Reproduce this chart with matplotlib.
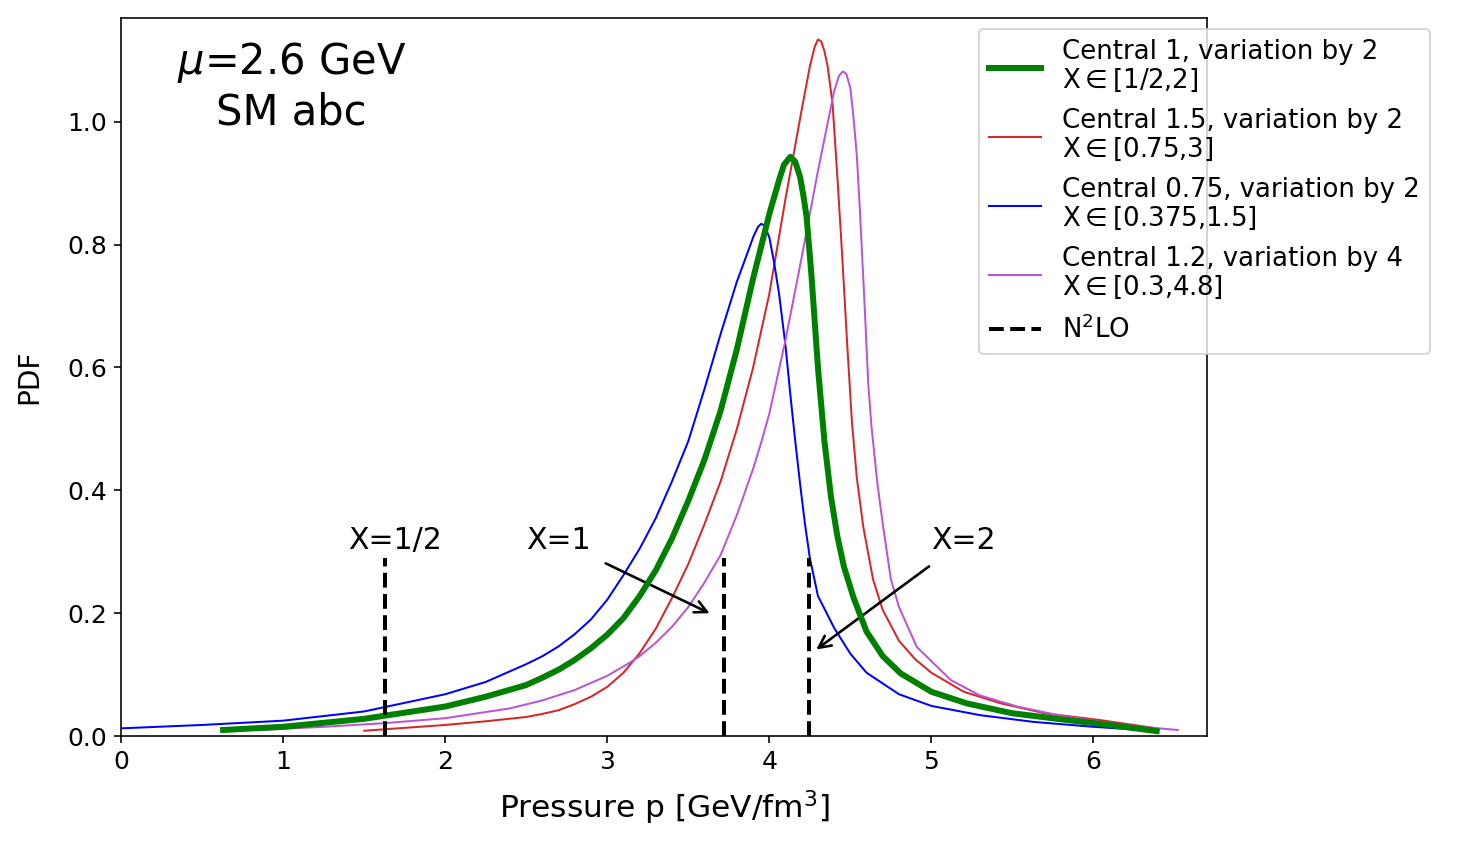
import matplotlib
matplotlib.use("Agg")
import matplotlib.pyplot as plt

# values (pressure, pdf)
blue_x = [0.00, 0.50, 1.00, 1.50, 2.00, 2.25, 2.50, 2.60, 2.70, 2.80, 2.90, 3.00, 3.10,
          3.20, 3.30, 3.40, 3.50, 3.60, 3.70, 3.80, 3.87, 3.90, 3.93, 3.95, 3.97, 4.00,
          4.03, 4.06, 4.10, 4.13, 4.16, 4.19, 4.22, 4.25, 4.30, 4.40, 4.50, 4.60, 4.80,
          5.00, 5.30, 5.63, 6.00, 6.29]
blue_y = [0.0125, 0.018, 0.025, 0.040, 0.068, 0.088, 0.117, 0.130, 0.146, 0.166, 0.190,
          0.222, 0.262, 0.305, 0.355, 0.415, 0.480, 0.565, 0.655, 0.740, 0.790, 0.812,
          0.829, 0.834, 0.831, 0.812, 0.770, 0.720, 0.635, 0.555, 0.480, 0.410, 0.345,
          0.290, 0.228, 0.176, 0.134, 0.103, 0.068, 0.049, 0.034, 0.023, 0.015, 0.010]

green_x = [0.63, 1.00, 1.50, 2.00, 2.25, 2.50, 2.60, 2.70, 2.80, 2.90, 3.00, 3.10, 3.20,
           3.30, 3.40, 3.50, 3.60, 3.70, 3.80, 3.90, 4.00, 4.06, 4.09, 4.13, 4.16, 4.19,
           4.21, 4.23, 4.26, 4.30, 4.34, 4.38, 4.42, 4.46, 4.52, 4.60, 4.70, 4.81, 5.00,
           5.22, 5.50, 5.84, 6.10, 6.39]
green_y = [0.0098, 0.015, 0.028, 0.048, 0.064, 0.083, 0.095, 0.108, 0.124, 0.143, 0.165,
           0.192, 0.228, 0.270, 0.322, 0.383, 0.450, 0.530, 0.630, 0.745, 0.850, 0.905,
           0.930, 0.943, 0.935, 0.910, 0.880, 0.845, 0.750, 0.600, 0.480, 0.390, 0.325,
           0.276, 0.225, 0.170, 0.130, 0.102, 0.072, 0.053, 0.037, 0.026, 0.018, 0.008]

red_x = [1.50, 2.00, 2.25, 2.50, 2.60, 2.70, 2.80, 2.90, 3.00, 3.10, 3.20, 3.30, 3.40,
         3.50, 3.60, 3.70, 3.80, 3.90, 4.00, 4.10, 4.20, 4.25, 4.28, 4.30, 4.32, 4.34,
         4.36, 4.39, 4.42, 4.45, 4.48, 4.51, 4.54, 4.58, 4.64, 4.70, 4.80, 4.90, 5.00,
         5.20, 5.43, 5.70, 6.04, 6.39]
red_y = [0.0086, 0.018, 0.024, 0.031, 0.036, 0.042, 0.052, 0.064, 0.080, 0.103, 0.135,
         0.175, 0.225, 0.280, 0.345, 0.415, 0.500, 0.600, 0.720, 0.875, 1.020, 1.090,
         1.122, 1.134, 1.131, 1.115, 1.090, 1.030, 0.910, 0.780, 0.640, 0.510, 0.420,
         0.340, 0.255, 0.205, 0.155, 0.125, 0.103, 0.072, 0.053, 0.037, 0.026, 0.0125]

mag_x = [0.85, 1.25, 1.63, 2.00, 2.40, 2.60, 2.80, 3.00, 3.13, 3.20, 3.30, 3.40, 3.50,
         3.60, 3.70, 3.80, 3.90, 3.95, 4.00, 4.10, 4.20, 4.30, 4.40, 4.43, 4.453, 4.475,
         4.50, 4.52, 4.54, 4.56, 4.59, 4.61, 4.63, 4.665, 4.70, 4.75, 4.80, 4.91, 5.12,
         5.30, 5.53, 5.80, 6.04, 6.30, 6.52]
mag_y = [0.0098, 0.015, 0.021, 0.029, 0.045, 0.058, 0.075, 0.098, 0.118, 0.130, 0.152,
         0.178, 0.210, 0.250, 0.295, 0.360, 0.435, 0.478, 0.525, 0.645, 0.780, 0.920,
         1.050, 1.075, 1.082, 1.078, 1.055, 1.005, 0.945, 0.850, 0.690, 0.575, 0.505,
         0.415, 0.345, 0.255, 0.210, 0.145, 0.091, 0.066, 0.048, 0.033, 0.023, 0.015,
         0.0098]

n2lo_x = [1.63, 3.722, 4.247]
n2lo_top = 0.29
n2lo_labels = ["X=1/2", "X=1", "X=2"]

labels = ["Central 1, variation by 2\nX$\\in$[1/2,2]",
          "Central 1.5, variation by 2\nX$\\in$[0.75,3]",
          "Central 0.75, variation by 2\nX$\\in$[0.375,1.5]",
          "Central 1.2, variation by 4\nX$\\in$[0.3,4.8]",
          "N$^2$LO"]

fig = plt.figure(figsize=(10.25, 5.875), dpi=144)
ax = fig.add_axes([0.082, 0.130, 0.7357, 0.8487])

ax.plot(green_x, green_y, color="green", lw=3.0, label=labels[0], zorder=4)
ax.plot(red_x, red_y, color="#d62728", lw=1.0, label=labels[1])
ax.plot(blue_x, blue_y, color="blue", lw=1.0, label=labels[2])
ax.plot(mag_x, mag_y, color="mediumorchid", lw=1.0, label=labels[3])
for i, xv in enumerate(n2lo_x):
    ax.plot([xv, xv], [0, n2lo_top], color="black", ls="--", lw=2.0,
            label=labels[4] if i == 0 else None, zorder=5)

# X labels
ax.text(1.69, 0.318, n2lo_labels[0], fontsize=15, ha="center", va="center")
ax.annotate(n2lo_labels[1], xy=(3.654, 0.197), xytext=(2.70, 0.318),
            fontsize=15, ha="center", va="center",
            arrowprops=dict(arrowstyle="->", color="black", lw=1.3, shrinkA=6))
ax.annotate(n2lo_labels[2], xy=(4.27, 0.137), xytext=(5.20, 0.318),
            fontsize=15, ha="center", va="center",
            arrowprops=dict(arrowstyle="->", color="black", lw=1.3, shrinkA=6))

ax.text(0.157, 0.97, "$\\mu$=2.6 GeV\nSM abc", transform=ax.transAxes,
        fontsize=20.8, ha="center", va="top", multialignment="center")

ax.set_xlim(0, 6.70)
ax.set_ylim(0, 1.169)
ax.set_xticks(range(7))
ax.set_yticks([0.0, 0.2, 0.4, 0.6, 0.8, 1.0])
ax.tick_params(labelsize=12.5)
ax.set_xlabel("Pressure p [GeV/fm$^3$]", fontsize=15.6, labelpad=7)
ax.set_ylabel("PDF", fontsize=14, labelpad=12)

leg = ax.legend(loc="upper left", bbox_to_anchor=(0.79, 0.985), fontsize=13,
                handlelength=2.0, borderaxespad=0, labelspacing=0.53)
for t in leg.get_texts():
    t.set_linespacing(1.1)

fig.savefig("out.png", dpi=144)
